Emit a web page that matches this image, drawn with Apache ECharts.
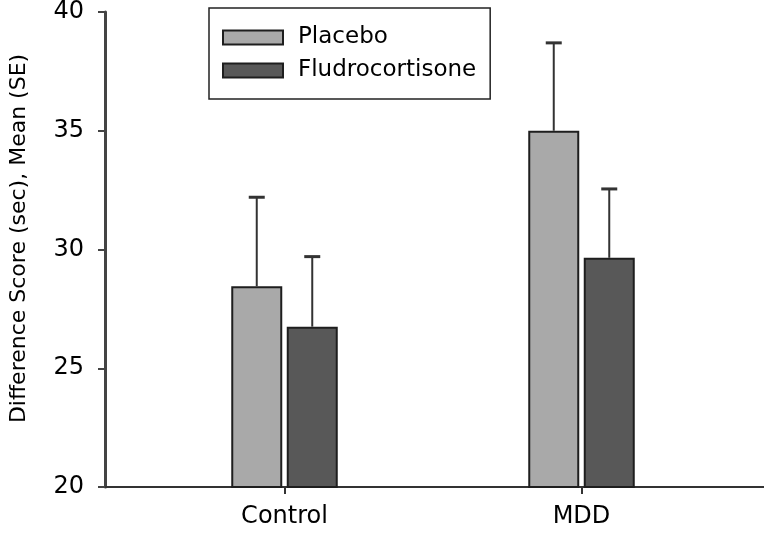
<!DOCTYPE html>
<html>
<head>
<meta charset="utf-8">
<script src="https://cdn.jsdelivr.net/npm/echarts@6/dist/echarts.min.js"></script>
<style>html,body{margin:0;padding:0;background:#fff;}#chart{width:764px;height:534px;}</style>
</head>
<body>
<div id="chart"></div>
<script>
var categories = ['Control', 'MDD'];
var placebo = [28.45, 35.0];
var placeboSE = [3.75, 3.7];
var fludro = [26.75, 29.65];
var fludroSE = [2.95, 2.9];
var yTicks = [20, 25, 30, 35, 40];

var FONT = 'DejaVu Sans';
var BAR_W = 51, BAR_GAP = 4.5;
var OFFSET = (BAR_W + BAR_GAP) / 2;

function errSeries(name, vals, ses, dir) {
  var data = vals.map(function (v, i) { return [i, v, v + ses[i]]; });
  return {
    type: 'custom', name: name + ' SE', xAxisIndex: 0, yAxisIndex: 0, z: 5,
    data: data,
    renderItem: function (params, api) {
      var p0 = api.coord([api.value(0), api.value(1)]);
      var p1 = api.coord([api.value(0), api.value(2)]);
      var x = p0[0] + dir * OFFSET;
      return { type: 'group', children: [
        { type: 'line', shape: { x1: x, y1: p0[1], x2: x, y2: p1[1] }, style: { stroke: '#333', lineWidth: 2 } },
        { type: 'line', shape: { x1: x - 8, y1: p1[1], x2: x + 8, y2: p1[1] }, style: { stroke: '#333', lineWidth: 3 } }
      ]};
    }
  };
}

var chart = echarts.init(document.getElementById('chart'), null, { renderer: 'canvas' });
chart.setOption({
  animation: false,
  backgroundColor: '#fff',
  textStyle: { fontFamily: FONT },
  grid: [
    { left: 130, right: 34, top: 10, bottom: 47 },
    { left: 99, right: 0, top: 10, bottom: 47 }
  ],
  legend: {
    orient: 'vertical', left: 209, top: 8,
    padding: [18, 14, 17, 13],
    itemWidth: 60, itemHeight: 14, itemGap: 10,
    icon: 'rect',
    borderColor: '#222', borderWidth: 1.5,
    data: ['Placebo', 'Fludrocortisone'],
    textStyle: { fontFamily: FONT, fontSize: 23, color: '#000', lineHeight: 23, padding: [0, 0, 0, 10] }
  },
  xAxis: [
    {
      type: 'category', gridIndex: 0, data: categories,
      axisLine: { show: false },
      axisTick: { show: true, alignWithLabel: true, length: 7, lineStyle: { color: '#333', width: 2 } },
      axisLabel: { fontFamily: FONT, fontSize: 24, color: '#000', margin: 18 },
      splitLine: { show: false }
    },
    {
      type: 'value', gridIndex: 1, min: 0, max: 1,
      axisLine: { show: true, onZero: false, lineStyle: { color: '#333', width: 2 } },
      axisTick: { show: false }, axisLabel: { show: false }, splitLine: { show: false }
    }
  ],
  yAxis: [
    {
      type: 'value', gridIndex: 0, min: yTicks[0], max: yTicks[yTicks.length - 1], interval: 5,
      offset: 31,
      name: 'Difference Score (sec), Mean (SE)', nameLocation: 'middle', nameGap: 75,
      nameTextStyle: { fontFamily: FONT, fontSize: 22, color: '#000', padding: [0, 0, 0, 22] },
      axisLine: { show: true, lineStyle: { color: '#444', width: 3 } },
      axisTick: { show: true, length: 7, lineStyle: { color: '#444', width: 2 } },
      axisLabel: { fontFamily: FONT, fontSize: 24, color: '#000', margin: 21 },
      splitLine: { show: false }
    },
    { type: 'value', gridIndex: 1, show: false, min: 0, max: 1 }
  ],
  series: [
    {
      type: 'bar', name: 'Placebo', data: placebo, barWidth: BAR_W, barGap: (BAR_GAP / BAR_W * 100) + '%',
      itemStyle: { color: '#a9a9a9', borderColor: '#1e1e1e', borderWidth: 2 }
    },
    {
      type: 'bar', name: 'Fludrocortisone', data: fludro, barWidth: BAR_W,
      itemStyle: { color: '#585858', borderColor: '#1e1e1e', borderWidth: 2 }
    },
    errSeries('Placebo', placebo, placeboSE, -1),
    errSeries('Fludrocortisone', fludro, fludroSE, 1)
  ]
});
</script>
</body>
</html>
